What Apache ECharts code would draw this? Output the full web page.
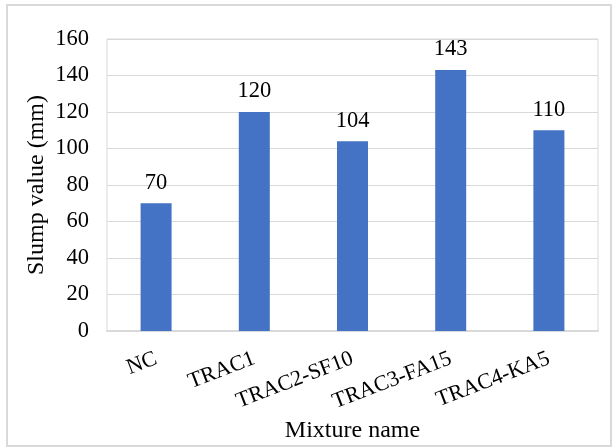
<!DOCTYPE html>
<html>
<head>
<meta charset="utf-8">
<script src="https://cdn.jsdelivr.net/npm/echarts@6/dist/echarts.min.js"></script>
<style>
  html, body { margin: 0; padding: 0; background: #fff; }
  #chart { width: 614px; height: 448px; }
</style>
</head>
<body>
<div id="chart"></div>
<script>
// Slump test results per concrete mixture
const mixtures = ['NC', 'TRAC1', 'TRAC2-SF10', 'TRAC3-FA15', 'TRAC4-KA5'];
const slumpValues = [70, 120, 104, 143, 110];
const yTicks = { min: 0, max: 160, interval: 20 };

const serif = '"Liberation Serif", "Times New Roman", serif';
const gridGrey = '#d9d9d9';

const chart = echarts.init(document.getElementById('chart'), null, { renderer: 'canvas' });

chart.setOption({
  backgroundColor: '#ffffff',
  animation: false,
  graphic: [{
    type: 'rect',
    shape: { x: 7, y: 5, width: 604, height: 441 },
    style: { fill: 'none', stroke: gridGrey, lineWidth: 2 },
    z: -1
  }],
  grid: {
    left: 107, right: 16, top: 39, bottom: 117,
    outerBoundsMode: 'none',
    containLabel: false,
    show: true, borderColor: gridGrey, borderWidth: 1
  },
  xAxis: {
    type: 'category',
    data: mixtures,
    name: 'Mixture name',
    nameLocation: 'middle',
    nameGap: 88,
    nameMoveOverlap: false,
    nameTextStyle: { fontFamily: serif, fontSize: 24, color: '#000' },
    axisLine: { show: true, lineStyle: { color: gridGrey, width: 2 } },
    axisTick: { show: false },
    axisLabel: {
      rotate: 21, margin: 27, interval: 0,
      fontFamily: serif, fontSize: 22, color: '#000'
    }
  },
  yAxis: {
    type: 'value',
    min: yTicks.min, max: yTicks.max, interval: yTicks.interval,
    name: 'Slump value (mm)',
    nameLocation: 'middle',
    nameGap: 58,
    nameMoveOverlap: false,
    nameTextStyle: { fontFamily: serif, fontSize: 24, color: '#000' },
    axisLine: { show: false },
    axisTick: { show: false },
    axisLabel: { margin: 18, fontFamily: serif, fontSize: 22.5, color: '#000' },
    splitLine: { show: true, lineStyle: { color: gridGrey, width: 1 } }
  },
  series: [{
    type: 'bar',
    data: slumpValues,
    barWidth: 31,
    itemStyle: { color: '#4472c4' },
    label: {
      show: true, position: 'top', distance: 9,
      fontFamily: serif, fontSize: 22.5, color: '#000'
    }
  }]
});
</script>
</body>
</html>
